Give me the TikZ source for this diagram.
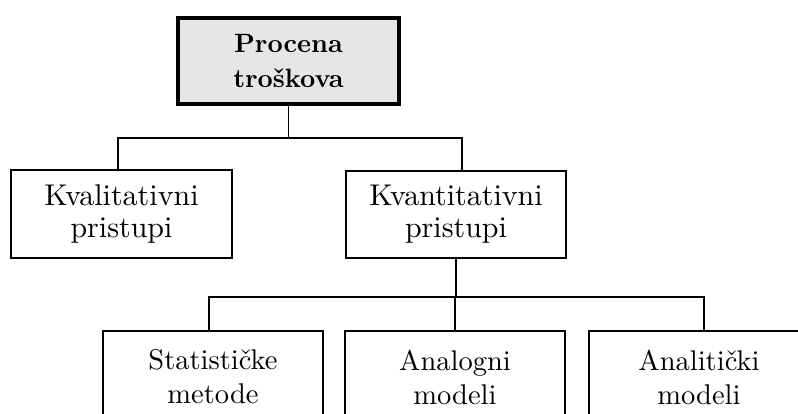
\documentclass[tikz,border=0pt]{standalone}
\usepackage{fontspec}
\setmainfont{lmroman10-regular.otf}[BoldFont=lmroman10-bold.otf]
\definecolor{headfill}{HTML}{E6E6E6}
\tikzset{
  box/.style={draw=black, line width=1.6pt, minimum width=220pt, inner sep=0pt,
    align=center, font=\fontsize{30}{32}\selectfont},
  lowbox/.style={box, minimum height=92pt, font=\fontsize{28.5}{34}\selectfont},
  headbox/.style={box, line width=4pt, fill=headfill, minimum width=221pt,
    minimum height=86pt, font=\fontsize{26.5}{35}\selectfont\bfseries},
  link/.style={draw=black, line width=1.5pt}
}
\begin{document}
\begin{tikzpicture}[x=1pt, y=-1pt]
\useasboundingbox (0,0) rectangle (798,413);
\clip (0,0) rectangle (798,413);

% root
\node[headbox] (root) at (288.5,61) {Procena\\troškova};

% second level
\node[box, minimum width=221pt, minimum height=88pt] (kval) at (121.5,214) {Kvalitativni\\pristupi};
\node[box, minimum height=87pt] (kvan) at (456,214.5) {Kvantitativni\\pristupi};

% third level (boxes run past the lower edge)
\node[lowbox] (stat) at (213,377) {Statističke\\metode};
\node[lowbox] (analog) at (455,377) {Analogni\\modeli};
\node[lowbox] (analit) at (699,377) {Analitički\\modeli};

% connectors from the root
\draw[link] (root.south) -- ++(0,32) coordinate (j1);
\draw[link] ([xshift=-3.5pt]kval.north) |- (j1);
\draw[link] ([xshift=6pt]kvan.north) |- (j1);

% connectors from the quantitative branch
\draw[link] (kvan.south) -- ++(0,38) coordinate (j2);
\draw[link] ([xshift=-4pt]stat.north) |- (j2);
\draw[link] (analog.north) -- (analog.north |- j2);
\draw[link] ([xshift=5pt]analit.north) |- (j2);
\end{tikzpicture}
\end{document}
